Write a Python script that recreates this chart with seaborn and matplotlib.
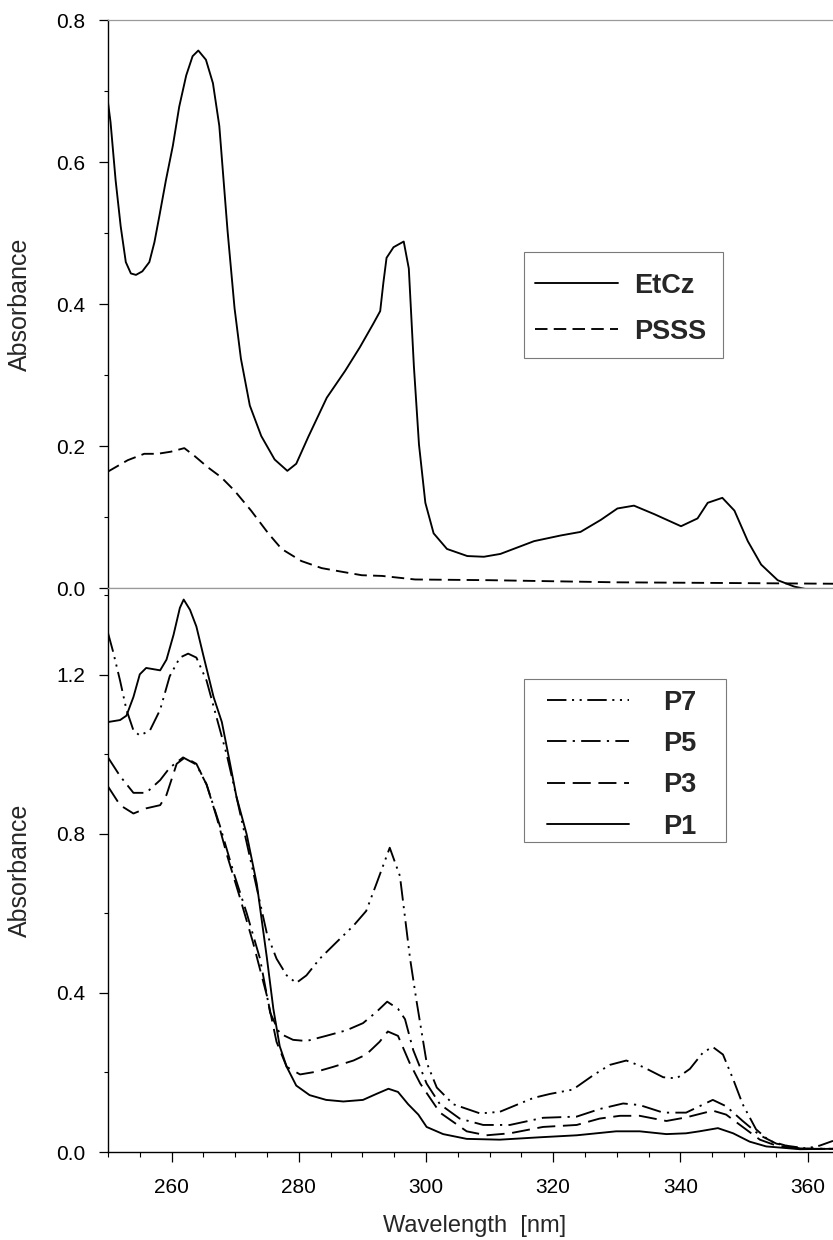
import numpy as np
import pandas as pd
import matplotlib
matplotlib.use("Agg")
import matplotlib.pyplot as plt
from matplotlib.ticker import MultipleLocator
from matplotlib.patches import Rectangle
import seaborn as sns

# ---------------- data ----------------
wl_etcz = [250.0, 250.4, 251.2, 252.0, 252.8, 253.6, 254.4, 255.4, 256.5, 257.3, 258.1,
           259.1, 260.2, 261.2, 262.3, 263.3, 264.2, 265.4, 266.5, 267.5, 268.8, 269.9,
           270.9, 272.3, 274.1, 276.2, 278.2, 279.6, 281.5, 284.4, 287.3, 289.6, 291.7,
           292.8, 293.3, 293.8, 294.9, 296.5, 297.3, 298.1, 298.9, 299.9, 301.2, 303.3,
           306.5, 309.1, 311.7, 317.0, 321.2, 324.3, 327.5, 330.1, 332.7, 335.9, 340.1,
           342.7, 344.3, 346.6, 348.5, 350.6, 352.7, 355.3, 357.9, 360.0, 364.0]
abs_etcz = [0.684, 0.656, 0.574, 0.509, 0.459, 0.443, 0.441, 0.446, 0.459, 0.487, 0.525,
            0.574, 0.623, 0.678, 0.722, 0.749, 0.757, 0.744, 0.711, 0.651, 0.503, 0.394,
            0.323, 0.257, 0.214, 0.181, 0.165, 0.175, 0.213, 0.268, 0.306, 0.339, 0.372,
            0.390, 0.430, 0.465, 0.480, 0.488, 0.450, 0.312, 0.202, 0.120, 0.077, 0.055,
            0.045, 0.044, 0.048, 0.066, 0.074, 0.079, 0.096, 0.112, 0.116, 0.104, 0.087,
            0.098, 0.120, 0.127, 0.109, 0.066, 0.033, 0.011, 0.002, -0.002, -0.002]

wl_psss = [250.0, 253.1, 255.7, 257.8, 259.9, 262.0, 263.6, 265.7, 267.8, 269.9, 272.5,
           275.2, 277.3, 280.4, 283.6, 286.7, 289.9, 293.1, 298.3, 310.0, 330.0, 348.0, 364.0]
abs_psss = [0.164, 0.180, 0.189, 0.189, 0.192, 0.197, 0.186, 0.170, 0.156, 0.137, 0.109,
            0.077, 0.055, 0.038, 0.028, 0.023, 0.018, 0.017, 0.012, 0.011, 0.008, 0.007, 0.006]

wl_p1 = [250.0, 251.9, 252.9, 254.0, 255.0, 256.0, 257.1, 258.2, 259.2, 260.3, 261.3,
         261.9, 262.9, 263.9, 265.0, 266.6, 267.9, 269.2, 270.2, 271.8, 273.4, 275.0,
         276.0, 277.0, 278.1, 279.6, 281.7, 284.3, 287.0, 290.1, 292.2, 294.1, 295.6,
         297.2, 298.8, 300.1, 302.7, 306.4, 311.6, 317.9, 323.7, 329.9, 333.6, 337.8,
         340.9, 343.0, 345.9, 348.3, 350.9, 353.5, 358.8, 364.0]
abs_p1 = [1.081, 1.086, 1.097, 1.144, 1.201, 1.217, 1.214, 1.211, 1.238, 1.300, 1.368,
          1.389, 1.363, 1.321, 1.248, 1.144, 1.081, 0.976, 0.893, 0.799, 0.674, 0.486,
          0.360, 0.266, 0.214, 0.167, 0.143, 0.131, 0.127, 0.131, 0.146, 0.159, 0.151,
          0.120, 0.094, 0.063, 0.045, 0.033, 0.031, 0.037, 0.042, 0.052, 0.052, 0.045,
          0.047, 0.052, 0.060, 0.047, 0.026, 0.014, 0.007, 0.008]

wl_p3 = [250.0, 251.9, 254.0, 256.0, 258.2, 259.2, 260.8, 262.1, 263.9, 265.5, 267.1,
         268.7, 270.7, 272.8, 275.0, 276.5, 278.1, 280.2, 282.8, 285.4, 288.6, 290.6,
         292.7, 294.0, 295.6, 297.4, 299.1, 302.2, 306.4, 309.5, 313.2, 318.4, 323.7,
         327.3, 330.5, 333.6, 337.8, 340.9, 345.1, 347.2, 349.8, 352.5, 355.1, 358.8, 364.0]
abs_p3 = [0.919, 0.872, 0.851, 0.864, 0.872, 0.898, 0.976, 0.992, 0.976, 0.924, 0.841,
          0.747, 0.642, 0.527, 0.392, 0.277, 0.214, 0.195, 0.202, 0.214, 0.230, 0.245,
          0.277, 0.303, 0.292, 0.225, 0.172, 0.099, 0.052, 0.042, 0.047, 0.063, 0.068,
          0.084, 0.091, 0.091, 0.078, 0.087, 0.104, 0.094, 0.063, 0.031, 0.016, 0.008, 0.008]

wl_p5 = [250.0, 251.9, 254.0, 256.0, 258.2, 259.7, 261.8, 263.9, 265.5, 267.6, 269.7,
         271.8, 273.9, 275.5, 277.0, 279.1, 281.2, 284.3, 287.5, 290.1, 292.2, 293.9,
         295.6, 296.7, 298.0, 300.1, 302.2, 305.3, 309.0, 313.2, 318.4, 323.7, 327.3,
         331.0, 333.6, 337.3, 340.9, 345.1, 347.2, 349.8, 352.5, 355.1, 358.8, 364.0]
abs_p5 = [0.992, 0.945, 0.903, 0.903, 0.935, 0.966, 0.992, 0.974, 0.924, 0.820, 0.705,
          0.601, 0.486, 0.350, 0.298, 0.282, 0.279, 0.292, 0.306, 0.324, 0.352, 0.378,
          0.360, 0.334, 0.256, 0.172, 0.120, 0.084, 0.068, 0.068, 0.086, 0.089, 0.108,
          0.122, 0.118, 0.099, 0.099, 0.131, 0.115, 0.078, 0.042, 0.021, 0.009, 0.008]

wl_p7 = [250.0, 250.8, 251.9, 252.9, 254.0, 255.0, 256.6, 258.2, 259.7, 261.3, 262.6,
         263.9, 265.5, 267.1, 268.7, 270.2, 271.8, 273.4, 275.0, 276.5, 278.1, 279.6,
         281.2, 283.3, 285.9, 288.6, 290.6, 292.2, 294.3, 295.9, 297.5, 298.5, 300.1,
         301.7, 304.3, 308.5, 311.6, 316.9, 319.5, 323.1, 326.3, 328.9, 331.5, 334.1,
         337.3, 339.4, 341.5, 343.6, 345.1, 346.7, 348.3, 349.8, 351.9, 354.0, 356.6,
         359.8, 361.9, 364.0]
abs_p7 = [1.305, 1.258, 1.185, 1.112, 1.060, 1.047, 1.060, 1.112, 1.196, 1.243, 1.253,
          1.243, 1.185, 1.091, 0.997, 0.893, 0.778, 0.663, 0.548, 0.486, 0.444, 0.425,
          0.444, 0.486, 0.527, 0.569, 0.606, 0.674, 0.765, 0.694, 0.486, 0.381, 0.225,
          0.162, 0.120, 0.097, 0.101, 0.136, 0.146, 0.157, 0.193, 0.219, 0.230, 0.214,
          0.188, 0.185, 0.209, 0.251, 0.264, 0.245, 0.183, 0.120, 0.057, 0.028, 0.016,
          0.009, 0.016, 0.028]

top_series = ["EtCz", "PSSS"]
bottom_series = ["P7", "P5", "P3", "P1"]
x_label = "Wavelength  [nm]"
y_label = "Absorbance"

# ---------------- styling ----------------
sns.set_theme(style="ticks")
plt.rcParams["font.family"] = ["Liberation Sans", "DejaVu Sans"]
plt.rcParams["lines.scale_dashes"] = False

W, H = 833, 1240
fig = plt.figure(figsize=(W / 100, H / 100), dpi=100)
left_px, right_px = 108, 833
top_px, mid_px, bot_px = 20, 588, 1152
ax_top = fig.add_axes([left_px / W, (H - mid_px) / H, (right_px - left_px) / W, (mid_px - top_px) / H])
ax_bot = fig.add_axes([left_px / W, (H - bot_px) / H, (right_px - left_px) / W, (bot_px - mid_px) / H])

LW = 1.35
styles = {
    "EtCz": "-",
    "PSSS": (0, (9, 4.5)),
    "P1": "-",
    "P3": (0, (13, 5.5)),
    "P5": (0, (14, 4.5, 1.6, 4.5)),
    "P7": (0, (14, 4, 1.5, 4, 1.5, 4)),
}

def draw(ax, x, y, name):
    df = pd.DataFrame({"wl": x, "a": y})
    sns.lineplot(data=df, x="wl", y="a", ax=ax, color="black", linewidth=LW,
                 linestyle=styles[name], label=name, sort=False, errorbar=None)

draw(ax_top, wl_etcz, abs_etcz, "EtCz")
draw(ax_top, wl_psss, abs_psss, "PSSS")
draw(ax_bot, wl_p7, abs_p7, "P7")
draw(ax_bot, wl_p5, abs_p5, "P5")
draw(ax_bot, wl_p3, abs_p3, "P3")
draw(ax_bot, wl_p1, abs_p1, "P1")

for ax in (ax_top, ax_bot):
    ax.set_xlim(250, 364)
    ax.spines["right"].set_visible(False)
    ax.spines["left"].set_color("black")
    ax.spines["left"].set_linewidth(1.0)
    ax.spines["top"].set_color("#9a9a9a")
    ax.spines["top"].set_linewidth(0.9)
    ax.set_xlabel("")
    ax.set_ylabel("")
    ax.tick_params(axis="y", which="major", direction="out", length=6.5, width=0.9,
                   pad=10, labelsize=15, colors="black")
    ax.tick_params(axis="y", which="minor", direction="out", length=3, width=0.8, colors="black")

# top panel
ax_top.set_ylim(0, 0.8)
ax_top.yaxis.set_major_locator(MultipleLocator(0.2))
ax_top.yaxis.set_minor_locator(MultipleLocator(0.1))
ax_top.yaxis.set_major_formatter(plt.FuncFormatter(lambda v, p: f"{v:.1f}"))
ax_top.spines["bottom"].set_color("#9a9a9a")
ax_top.spines["bottom"].set_linewidth(0.9)
ax_top.tick_params(axis="x", which="both", bottom=False, labelbottom=False)

# bottom panel
ax_bot.set_ylim(0, 1.418)
ax_bot.yaxis.set_major_locator(MultipleLocator(0.4))
ax_bot.yaxis.set_minor_locator(MultipleLocator(0.2))
ax_bot.yaxis.set_major_formatter(plt.FuncFormatter(lambda v, p: f"{v:.1f}"))
ax_bot.xaxis.set_major_locator(MultipleLocator(20))
ax_bot.xaxis.set_minor_locator(MultipleLocator(5))
ax_bot.spines["bottom"].set_color("black")
ax_bot.spines["bottom"].set_linewidth(1.0)
ax_bot.tick_params(axis="x", which="major", direction="out", length=7.5, width=0.9,
                   pad=11, labelsize=15, colors="black")
ax_bot.tick_params(axis="x", which="minor", direction="out", length=3.5, width=0.8, colors="black")

# axis labels
for ax in (ax_top, ax_bot):
    ax.set_ylabel(y_label, fontsize=18)
    ax.yaxis.set_label_coords(-0.105, 0.5)
ax_bot.set_xlabel(x_label, fontsize=17)
ax_bot.xaxis.set_label_coords(0.505, -0.112)

# legends (no built-in frame; a separate thin box is drawn around them)
LEG_FS = 19.5

def make_legend(ax, names, anchor, handlelength, textpad, labelspacing, box):
    handles, labels = ax.get_legend_handles_labels()
    order = [labels.index(n) for n in names]
    leg = ax.legend([handles[i] for i in order], [labels[i] for i in order],
                    loc="upper left", bbox_to_anchor=anchor, frameon=False,
                    handlelength=handlelength, handletextpad=textpad,
                    labelspacing=labelspacing, borderpad=0, borderaxespad=0,
                    prop={"weight": "bold", "size": LEG_FS,
                          "family": ["Liberation Sans", "DejaVu Sans"]})
    for ln in leg.get_lines():
        ln.set_linewidth(LW)
    ax.add_patch(Rectangle((box[0], box[1]), box[2], box[3], transform=ax.transAxes,
                           fill=False, edgecolor="#7a7a7a", linewidth=0.8,
                           clip_on=False, zorder=1))
    return leg

make_legend(ax_top, top_series, (0.589, 0.555), 3.06, 0.59, 0.74,
            (0.5738, 0.405, 0.2745, 0.1866))
make_legend(ax_bot, bottom_series, (0.6055, 0.820), 3.03, 1.25, 0.57,
            (0.5738, 0.5496, 0.2786, 0.289))

fig.savefig("out.png", dpi=100)
